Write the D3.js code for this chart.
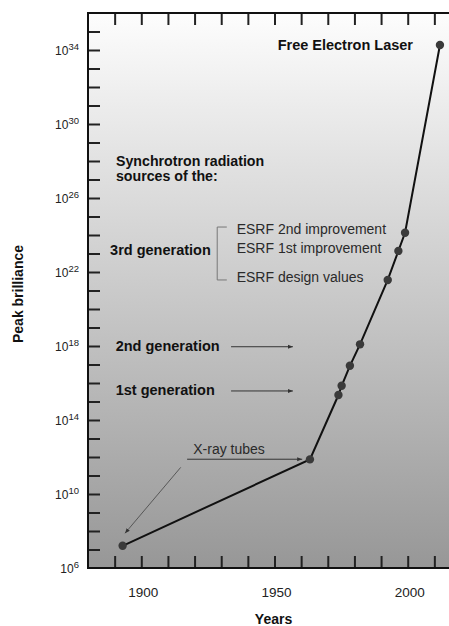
<!DOCTYPE html>
<html>
<head>
<meta charset="utf-8">
<script src="https://cdn.jsdelivr.net/npm/d3@7"></script>
<style>
  html, body { margin: 0; padding: 0; background: #fff; }
  svg { display: block; font-family: "Liberation Sans", Arial, Helvetica, sans-serif; }
</style>
</head>
<body>
<svg id="chart" width="449" height="626"></svg>
<script>
// ---- data ----
const years = [1893, 1963.3, 1974, 1975.2, 1978.3, 1982.1, 1992.5, 1996.5, 1999, 2012.1];
const brillianceExp = [7.2, 11.87, 15.35, 15.85, 16.93, 18.09, 21.57, 23.14, 24.12, 34.27];
const xTickLabels = [1900, 1950, 2000];
const xMinorTicks = [1890, 1900, 1910, 1920, 1930, 1940, 1950, 1960, 1970, 1980, 1990, 2000, 2010];
const yTickExps = [6, 10, 14, 18, 22, 26, 30, 34];
const yMinorExps = d3.range(7, 36);
const esrfLabels = ["ESRF 2nd improvement", "ESRF 1st improvement", "ESRF design values"];
const esrfExps = [24.31, 23.28, 21.75];
const synchLines = ["Synchrotron radiation", "sources of the:"];
const synchExps = [27.98, 27.2];
const genLabels = ["2nd generation", "1st generation"];
const genExps = [18.0, 15.62];

// ---- layout ----
const mLeft = 88, mRight = 461, mTop = 13, mBottom = 568;
const svg = d3.select("#chart");

const x = d3.scaleLinear().domain([1880, 2020]).range([mLeft, mRight]);
const y = d3.scaleLog().domain([1e6, 1e36]).range([mBottom, mTop]);
const ye = e => y(Math.pow(10, e));

// background gradient
const defs = svg.append("defs");
const grad = defs.append("linearGradient").attr("id", "bg")
  .attr("x1", 0).attr("y1", 0).attr("x2", 0).attr("y2", 1);
grad.append("stop").attr("offset", "0%").attr("stop-color", "#fdfdfd");
grad.append("stop").attr("offset", "100%").attr("stop-color", "#979797");

const marker = defs.append("marker").attr("id", "arrow")
  .attr("viewBox", "0 0 10 10").attr("refX", 10).attr("refY", 5)
  .attr("markerWidth", 5).attr("markerHeight", 5).attr("orient", "auto")
  .attr("markerUnits", "userSpaceOnUse");
marker.append("path").attr("d", "M0,1L10,5L0,9z").attr("fill", "#333");

svg.append("rect").attr("x", mLeft).attr("y", mTop)
  .attr("width", mRight - mLeft).attr("height", mBottom - mTop)
  .attr("fill", "url(#bg)");

// axes (inward ticks)
const tickLen = 12;
const styleTicks = g => {
  g.select(".domain").remove();
  g.selectAll("line").attr("stroke", "#222").attr("stroke-width", 2);
};
svg.append("g").attr("transform", `translate(0,${mBottom})`)
  .call(d3.axisBottom(x).tickValues(xMinorTicks).tickSize(-tickLen).tickFormat(""))
  .call(styleTicks);
svg.append("g").attr("transform", `translate(0,${mTop})`)
  .call(d3.axisTop(x).tickValues(xMinorTicks).tickSize(-tickLen).tickFormat(""))
  .call(styleTicks);
svg.append("g").attr("transform", `translate(${mLeft},0)`)
  .call(d3.axisLeft(y).tickValues(yMinorExps.map(e => Math.pow(10, e))).tickSize(-tickLen).tickFormat(""))
  .call(styleTicks);
svg.append("g").attr("transform", `translate(${mRight},0)`)
  .call(d3.axisRight(y).tickValues(yMinorExps.map(e => Math.pow(10, e))).tickSize(-tickLen).tickFormat(""))
  .call(styleTicks);

// frame
svg.append("rect").attr("x", mLeft).attr("y", mTop)
  .attr("width", mRight - mLeft).attr("height", mBottom - mTop)
  .attr("fill", "none").attr("stroke", "#111").attr("stroke-width", 2);

// x tick labels
svg.append("g").selectAll("text").data(xTickLabels).join("text")
  .attr("x", d => x(d) + 2).attr("y", 592).attr("dy", "0.35em")
  .attr("text-anchor", "middle").attr("font-size", 13.5).attr("fill", "#222")
  .text(d => d);

// y tick labels
const yl = svg.append("g").selectAll("text").data(yTickExps).join("text")
  .attr("x", 79).attr("y", d => ye(d) + 5)
  .attr("text-anchor", "end").attr("fill", "#222").attr("font-size", 12);
yl.append("tspan").text("10");
yl.append("tspan").attr("dy", -5).attr("font-size", 9.5).text(d => d);

// axis titles
svg.append("text").attr("x", x(1950) - 1).attr("y", 619).attr("dy", "0.35em")
  .attr("text-anchor", "middle").attr("font-weight", "bold").attr("font-size", 14)
  .attr("fill", "#111").text("Years");
svg.append("text").attr("transform", "translate(18,294) rotate(-90)").attr("dy", "0.35em")
  .attr("text-anchor", "middle").attr("font-weight", "bold").attr("font-size", 14)
  .attr("fill", "#111").text("Peak brilliance");

// annotations
const bold = (sel) => sel.attr("font-weight", "bold").attr("font-size", 14.5).attr("fill", "#111");
svg.append("g").selectAll("text").data(synchLines).join("text")
  .attr("x", x(1890.5)).attr("y", (d, i) => ye(synchExps[i])).attr("dy", "0.35em")
  .call(bold).attr("font-size", 14.2).text(d => d);
svg.append("text").attr("x", x(2002)).attr("y", ye(34.27)).attr("dy", "0.35em")
  .call(bold).attr("text-anchor", "end").text("Free Electron Laser");
svg.append("text").attr("x", x(1888.3)).attr("y", ye(23.19)).attr("dy", "0.35em")
  .call(bold).text("3rd generation");
svg.append("g").selectAll("text").data(genLabels).join("text")
  .attr("x", x(1890.4)).attr("y", (d, i) => ye(genExps[i])).attr("dy", "0.35em")
  .call(bold).text(d => d);

// bracket
svg.append("path")
  .attr("d", `M${x(1932.1)},${ye(24.43)}H${x(1928.5)}V${ye(21.57)}H${x(1932.1)}`)
  .attr("fill", "none").attr("stroke", "#777").attr("stroke-width", 1);
svg.append("g").selectAll("text").data(esrfLabels).join("text")
  .attr("x", x(1935.8)).attr("y", (d, i) => ye(esrfExps[i])).attr("dy", "0.35em")
  .attr("font-size", 14).attr("fill", "#2a2a2a").text(d => d);

// generation arrows
svg.append("g").selectAll("line").data([17.96, 15.57]).join("line")
  .attr("x1", x(1933.7)).attr("x2", x(1956.9))
  .attr("y1", d => ye(d)).attr("y2", d => ye(d))
  .attr("stroke", "#333").attr("stroke-width", 1).attr("marker-end", "url(#arrow)");

// X-ray tubes
svg.append("text").attr("x", x(1919.5)).attr("y", ye(12.43)).attr("dy", "0.35em")
  .attr("font-size", 14).attr("fill", "#2a2a2a").text("X-ray tubes");
svg.append("line").attr("x1", x(1917.2)).attr("x2", x(1960.4))
  .attr("y1", ye(11.88)).attr("y2", ye(11.88))
  .attr("stroke", "#333").attr("stroke-width", 1).attr("marker-end", "url(#arrow)");
svg.append("line").attr("x1", x(1914.8)).attr("y1", ye(11.44))
  .attr("x2", x(1893.9)).attr("y2", ye(7.88))
  .attr("stroke", "#444").attr("stroke-width", 0.8).attr("marker-end", "url(#arrow)");

// data line & points
const pts = years.map((yr, i) => [yr, brillianceExp[i]]);
svg.append("path").datum(pts)
  .attr("d", d3.line().x(d => x(d[0])).y(d => ye(d[1])))
  .attr("fill", "none").attr("stroke", "#111").attr("stroke-width", 2);
svg.append("g").selectAll("circle").data(pts).join("circle")
  .attr("cx", d => x(d[0])).attr("cy", d => ye(d[1])).attr("r", 4.2)
  .attr("fill", "#3a3a3a");
</script>
</body>
</html>
